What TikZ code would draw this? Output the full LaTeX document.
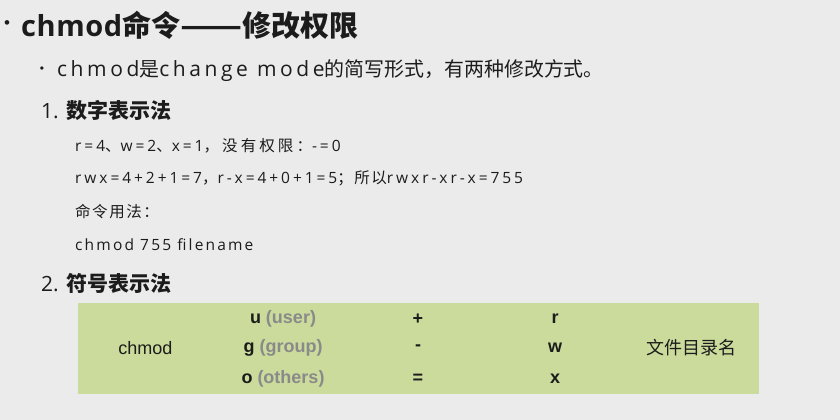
\documentclass[tikz,border=0pt]{standalone}
\usepackage{fontspec}
\setmainfont{Open Sans}
\newfontfamily\lattitle{Open Sans}[LetterSpace=2]
\newfontfamily\latsub{Open Sans}[LetterSpace=17]
\newfontfamily\latbody{Open Sans}[LetterSpace=14]
\newfontfamily\latcalc{Open Sans}[LetterSpace=19]
\newfontfamily\cjk{Noto Sans CJK SC}
\newfontfamily\cjksub{Noto Sans CJK SC}[Scale=0.95]
\newfontfamily\cjkbody{Noto Sans CJK SC}[LetterSpace=10]
\newfontfamily\cjkcalc{Noto Sans CJK SC}[LetterSpace=20]
\newfontfamily\arial{Liberation Sans}

\definecolor{slidebg}{HTML}{EBEBEB}
\definecolor{tablegreen}{HTML}{CBDB9B}
\definecolor{ink}{HTML}{1C1C1C}
\definecolor{softgrey}{HTML}{8A8A8A}

\tikzset{
  slidetext/.style={anchor=west,inner sep=0pt,text=ink},
  titletext/.style={slidetext,font=\lattitle\bfseries\fontsize{29}{34}\selectfont},
  subtext/.style={slidetext,font=\latsub\fontsize{21}{25}\selectfont},
  headtext/.style={slidetext,font=\fontsize{21}{25}\selectfont},
  bodytext/.style={slidetext,font=\latbody\fontsize{15.5}{18}\selectfont},
  calctext/.style={bodytext,font=\latcalc\fontsize{15.5}{18}\selectfont},
  dotmark/.style={inner sep=0pt,text=ink,font=\arial\fontsize{#1}{#1}\selectfont},
  tablebox/.style={fill=tablegreen,draw=none,minimum width=681pt,minimum height=91pt,inner sep=0pt},
  cell/.style={inner sep=0pt,text=ink,font=\arial\fontsize{18}{20}\selectfont},
  boldcell/.style={cell,font=\arial\bfseries\fontsize{18}{20}\selectfont},
}

\begin{document}
\begin{tikzpicture}[x=1pt,y=-1pt]
        \fill[slidebg] (0,0) rectangle (840,420);
        \useasboundingbox (0,0) rectangle (840,420);
        \node[dotmark=17] (titledot) at (7,25) {•};
        \node[titletext] (title) at (21,25) {chmod{\cjk 命令\scalebox{1.25}[1]{——}修改权限}};
        \node[dotmark=12] (subdot) at (42,70) {•};
        \node[subtext] (intro) at (57,71) {chmod{\cjksub 是}change mode{\cjksub 的简写形式，有两种修改方式。}};
        \node[headtext] (numhead) at (41,110) {1. {\cjk\bfseries 数字表示法}};
        \node[calctext] (values) at (75,146) {r=4{\cjkcalc 、}w=2{\cjkcalc 、}x=1{\cjkcalc ，没有权限：}-=0};
        \node[calctext] (sums) at (75,178) {rwx=4+2+1=7{\cjkbody ，}r-x=4+0+1=5{\cjkbody ；所以}rwxr-xr-x=755};
        \node[bodytext] (usage) at (75,212) {\cjkbody 命令用法：};
        \node[bodytext] (example) at (75,245) {chmod 755 filename};
        \node[headtext] (symhead) at (41,283) {2. {\cjk\bfseries 符号表示法}};
        \node[tablebox] (table) at (418.5,348.5) {};
        \node[cell] (cmd) at (145.5,348) {chmod};
        \node[boldcell] (who u) at (283,319) {u \textcolor{softgrey}{(user)}};
        \node[boldcell] (who g) at (283,348) {g \textcolor{softgrey}{(group)}};
        \node[boldcell] (who o) at (283,379) {o \textcolor{softgrey}{(others)}};
        \node[boldcell] (op add) at (418,319) {+};
        \node[boldcell] (op del) at (418,348) {-};
        \node[boldcell] (op set) at (418,379) {=};
        \node[boldcell] (perm r) at (555,319) {r};
        \node[boldcell] (perm w) at (555,348) {w};
        \node[boldcell] (perm x) at (555,379) {x};
        \node[cell,font=\cjk\fontsize{18}{20}\selectfont] (target) at (691,348) {文件目录名};
    \end{tikzpicture}
\end{document}
